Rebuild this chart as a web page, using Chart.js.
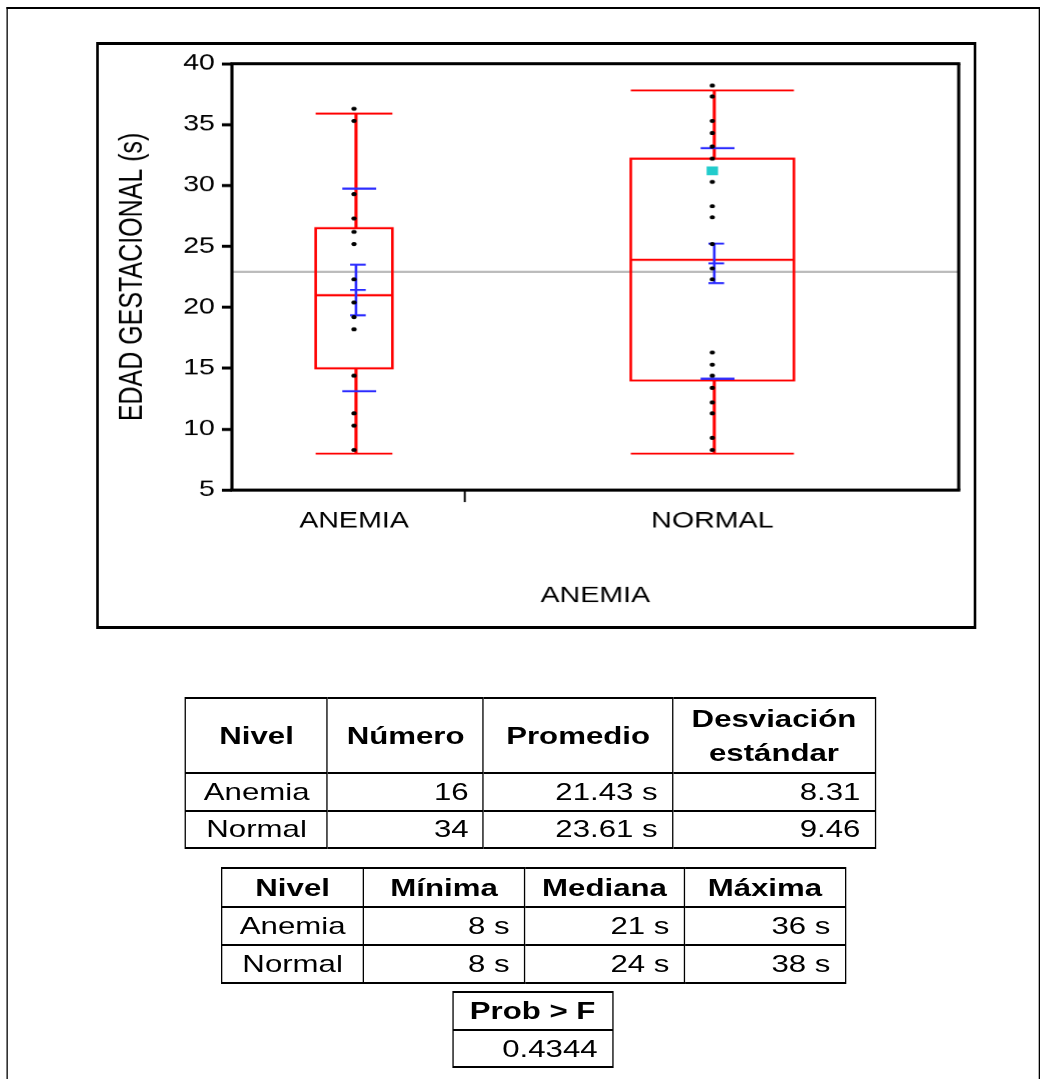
<!DOCTYPE html>
<html lang="es">
<head>
<meta charset="UTF-8" />
<title>Edad gestacional por anemia</title>
<style>
  body { margin: 0; background: #fff; font-family: 'Liberation Sans', Arial, sans-serif; color: #000; }
  /* the reference is drawn horizontally stretched, so the whole page is laid out narrow and stretched */
  #page { position: absolute; left: 0; top: 0; width: 805px; height: 1079px; overflow: hidden; transform: scaleX(1.3); transform-origin: 0 0; }
  .page-border { position: absolute; left: 5px; top: 7px; width: 795px; height: 1100px; border: solid #000; border-width: 2px 1.6px 0 1.6px; box-sizing: border-box; }
  .chart-frame { position: absolute; left: 73.8px; top: 42px; width: 677px; height: 587px; border: solid #000; border-width: 3px 2.4px; box-sizing: border-box; }
  .chart-view { position: absolute; left: 0; top: 0; width: 100%; height: 100%; }
  table { position: absolute; border-collapse: collapse; table-layout: fixed; font-size: 24px; }
  td, th { border: solid #000; border-width: 2px 1.6px; padding: 0 11px; text-align: right; white-space: nowrap; }
  th { font-weight: bold; text-align: center; padding: 0; }
  td.lvl { text-align: center; padding: 0; }
</style>
</head>
<body>
<div id="page">
  <div class="page-border"></div>
  <div class="chart-frame">
    <div class="chart-view"><canvas id="chart"></canvas></div>
  </div>

  <table style="left:142.3px; top:697px;">
    <colgroup><col style="width:109.2px"><col style="width:120px"><col style="width:145.4px"><col style="width:156px"></colgroup>
    <tr style="height:75px"><th>Nivel</th><th>Número</th><th>Promedio</th><th style="line-height:34px">Desviación<br>estándar</th></tr>
    <tr style="height:37.5px"><td class="lvl">Anemia</td><td>16</td><td>21.43 s</td><td>8.31</td></tr>
    <tr style="height:37.5px"><td class="lvl">Normal</td><td>34</td><td>23.61 s</td><td>9.46</td></tr>
  </table>

  <table style="left:170px; top:867px;">
    <colgroup><col style="width:109.2px"><col style="width:123.8px"><col style="width:123px"><col style="width:123.8px"></colgroup>
    <tr style="height:39px"><th>Nivel</th><th>Mínima</th><th>Mediana</th><th>Máxima</th></tr>
    <tr style="height:38px"><td class="lvl">Anemia</td><td>8 s</td><td>21 s</td><td>36 s</td></tr>
    <tr style="height:38px"><td class="lvl">Normal</td><td>8 s</td><td>24 s</td><td>38 s</td></tr>
  </table>

  <table style="left:347.7px; top:991px;">
    <colgroup><col style="width:123px"></colgroup>
    <tr style="height:38px"><th>Prob &gt; F</th></tr>
    <tr style="height:37px"><td>0.4344</td></tr>
  </table>
</div>

<script src="https://cdn.jsdelivr.net/npm/chart.js"></script>
<script>
  //data
  const groups = ['ANEMIA', 'NORMAL'];
  const counts = [16, 34];
  const groupX = [8.4, 33.05];
  const anemiaValues = [36.3, 35.3, 29.3, 27.3, 26.2, 25.2, 22.3, 20.4, 19.2, 18.2, 14.4, 11.3, 10.3, 8.3];
  const normalValues = [38.2, 37.3, 35.3, 34.3, 33.2, 32.2, 30.3, 28.3, 27.4, 25.2, 23.2, 22.3, 16.3, 15.3, 14.4, 13.4, 12.2, 11.3, 9.3, 8.3];
  const selectedNormal = [31.2];
  const whiskerLow = [8, 8];
  const quartile1 = [15, 14];
  const medians = [21, 23.9];
  const quartile3 = [26.5, 32.2];
  const whiskerHigh = [35.9, 37.8];
  const means = [21.43, 23.61];
  const stdDevs = [8.31, 9.46];
  const yTicks = [5, 10, 15, 20, 25, 30, 35, 40];

  const FONT = "'Liberation Sans', Arial, sans-serif";
  const RED = '#ff0000';
  const BLUE = '#2b2bff';
  const grandMean = means.reduce((s, m, i) => s + m * counts[i], 0) / counts.reduce((s, n) => s + n, 0);

  function line(ctx, x1, y1, x2, y2) {
    ctx.beginPath();
    ctx.moveTo(x1, y1);
    ctx.lineTo(x2, y2);
    ctx.stroke();
  }

  //boxes, mean bars and the grand mean line
  const onewayPlugin = {
    id: 'oneway',
    beforeDatasetsDraw(chart) {
      const { ctx, chartArea: a, scales: { x, y } } = chart;
      ctx.save();
      ctx.lineCap = 'butt';

      ctx.strokeStyle = '#b4b4b4';
      ctx.lineWidth = 2;
      line(ctx, a.left, y.getPixelForValue(grandMean), a.right, y.getPixelForValue(grandMean));

      groups.forEach((g, i) => {
        const cx = x.getPixelForValue(groupX[i]);
        const half = x.getPixelForValue(groupX[i] + counts[i] * 0.165) - cx;
        const yLo = y.getPixelForValue(whiskerLow[i]);
        const yQ1 = y.getPixelForValue(quartile1[i]);
        const yMed = y.getPixelForValue(medians[i]);
        const yQ3 = y.getPixelForValue(quartile3[i]);
        const yHi = y.getPixelForValue(whiskerHigh[i]);

        ctx.strokeStyle = RED;
        ctx.lineWidth = 2;
        ctx.strokeRect(cx - half, yQ3, half * 2, yQ1 - yQ3);
        line(ctx, cx - half, yMed, cx + half, yMed);
        line(ctx, cx - half, yHi, cx + half, yHi);
        line(ctx, cx - half, yLo, cx + half, yLo);
        ctx.lineWidth = 2.4;
        line(ctx, cx + 1.5, yQ3, cx + 1.5, yHi);
        line(ctx, cx + 1.5, yQ1, cx + 1.5, yLo);

        const se = stdDevs[i] / Math.sqrt(counts[i]);
        const yMean = y.getPixelForValue(means[i]);
        const ySeHi = y.getPixelForValue(means[i] + se);
        const ySeLo = y.getPixelForValue(means[i] - se);
        const ySdHi = y.getPixelForValue(means[i] + stdDevs[i]);
        const ySdLo = y.getPixelForValue(means[i] - stdDevs[i]);

        ctx.strokeStyle = BLUE;
        ctx.lineWidth = 2;
        line(ctx, cx + 4 - 13, ySdHi, cx + 4 + 13, ySdHi);
        line(ctx, cx + 4 - 13, ySdLo, cx + 4 + 13, ySdLo);
        [ySeHi, yMean, ySeLo].forEach((yy) => line(ctx, cx + 3 - 6, yy, cx + 3 + 6, yy));
        line(ctx, cx + 1.5, ySeHi, cx + 1.5, ySeLo);
      });
      ctx.restore();
    },
    afterDraw(chart) {
      const { ctx, chartArea: a } = chart;
      ctx.save();
      ctx.strokeStyle = '#000';
      ctx.lineWidth = 3;
      line(ctx, a.left - 1.2, a.top, a.right + 1.2, a.top);
      line(ctx, a.left - 1.2, a.bottom, a.right + 1.2, a.bottom);
      ctx.lineWidth = 2.4;
      line(ctx, a.left, a.top, a.left, a.bottom);
      line(ctx, a.right, a.top, a.right, a.bottom);
      ctx.restore();
    }
  };

  const data = {
    datasets: [
      {
        label: 'Anemia',
        data: anemiaValues.map((v) => ({ x: groupX[0], y: v })),
        backgroundColor: '#000',
        borderWidth: 0,
        pointRadius: 2
      },
      {
        label: 'Normal',
        data: normalValues.map((v) => ({ x: groupX[1], y: v })),
        backgroundColor: '#000',
        borderWidth: 0,
        pointRadius: 2
      },
      {
        label: 'Seleccionado',
        data: selectedNormal.map((v) => ({ x: groupX[1], y: v })),
        backgroundColor: '#22cccc',
        borderWidth: 0,
        pointStyle: 'rect',
        pointRadius: 6.2
      }
    ]
  };

  //config
  const config = {
    type: 'scatter',
    data: data,
    options: {
      animation: false,
      responsive: true,
      maintainAspectRatio: false,
      devicePixelRatio: 1.3,
      events: [],
      layout: { padding: { top: 17, right: 12.2, left: 0, bottom: 0 } },
      plugins: { legend: { display: false }, tooltip: { enabled: false } },
      scales: {
        x: {
          type: 'linear',
          min: 0,
          max: counts[0] + counts[1],
          afterBuildTicks: (scale) => {
            scale.ticks = [groupX[0], counts[0], groupX[1]].map((v) => ({ value: v }));
          },
          afterFit: (scale) => { scale.height = 136; },
          border: { display: false },
          grid: {
            drawOnChartArea: false,
            tickLength: 12,
            tickWidth: 1.5,
            tickColor: (c) => (c.tick && c.tick.value === counts[0] ? '#000' : 'rgba(0,0,0,0)')
          },
          ticks: {
            autoSkip: false,
            maxRotation: 0,
            padding: 6,
            color: '#000',
            font: { family: FONT, size: 22 },
            callback: (v) => {
              const i = groupX.indexOf(v);
              return i >= 0 ? groups[i] : '';
            }
          },
          title: {
            display: true,
            text: 'ANEMIA',
            color: '#000',
            font: { family: FONT, size: 22 },
            padding: { top: 0, bottom: 16.8 }
          }
        },
        y: {
          min: 5,
          max: 40,
          afterBuildTicks: (scale) => {
            scale.ticks = yTicks.map((v) => ({ value: v }));
          },
          afterFit: (scale) => { scale.width = 102.3; },
          border: { display: false },
          grid: { drawOnChartArea: false, tickLength: 7.7, tickWidth: 3, tickColor: '#000' },
          ticks: { padding: 5.4, color: '#000', font: { family: FONT, size: 22 } },
          title: {
            display: true,
            text: 'EDAD GESTACIONAL (s)',
            color: '#000',
            font: { family: FONT, size: 25 },
            padding: { top: 11.1, bottom: 0 }
          }
        }
      }
    },
    plugins: [onewayPlugin]
  };

  //init
  const ctx = document.getElementById('chart');
  const chart = new Chart(ctx, config);
</script>
</body>
</html>
